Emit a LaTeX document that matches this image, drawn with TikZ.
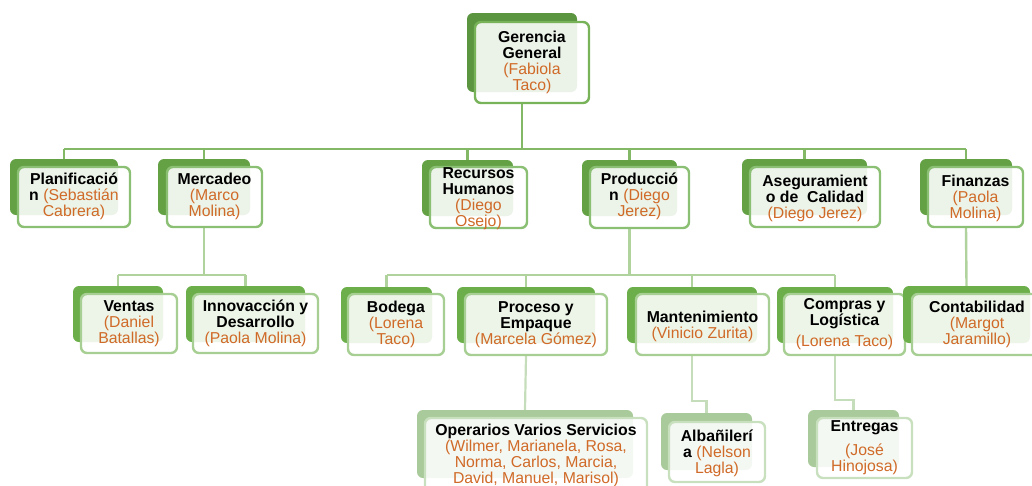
\documentclass[tikz,border=0pt]{standalone}
\usepackage{fontspec}
\setmainfont{Liberation Sans}
\usetikzlibrary{fit,backgrounds}
\definecolor{backA}{HTML}{5B9540}
\definecolor{bordA}{HTML}{78B35A}
\definecolor{backB}{HTML}{64A145}
\definecolor{bordB}{HTML}{8BC074}
\definecolor{connB}{HTML}{82B866}
\definecolor{backC}{HTML}{6BAE4A}
\definecolor{bordC}{HTML}{A8CF93}
\definecolor{connC}{HTML}{B0D39E}
\definecolor{backD}{HTML}{A9CA9A}
\definecolor{bordD}{HTML}{C9E0BF}
\definecolor{connD}{HTML}{C5DDBA}
\definecolor{orangetxt}{HTML}{D06A28}
\newcommand\onm[1]{\textbf{#1}}
\newcommand\opn[1]{\textcolor{orangetxt}{#1}}
% #1 name, #2 level letter, #3 back c1, #4 back c2, #5 front c1, #6 front c2, #7 yshift, #8 text
\newcommand\orgnode[8]{%
  \node[backbox, fill=back#2, fit={(#3) (#4)}] (#1b) {};
  \node[frontbox, draw=bord#2, fit={(#5) (#6)}] (#1f) {};
  \node[txtbox, yshift=#7] (#1t) at (#1f.center) {#8};
}
\begin{document}
\begin{tikzpicture}[x=1pt,y=-1pt,
  backbox/.style={inner sep=0pt, rounded corners=6pt, draw=none},
  frontbox/.style={inner sep=0pt, rounded corners=6pt, line width=2.4pt, fill=white, fill opacity=0.88},
  txtbox/.style={inner sep=0pt, align=center, font=\fontsize{15.8}{16}\selectfont},
  lineB/.style={draw=connB, line width=2.8pt},
  lineC/.style={draw=connC, line width=2.4pt},
  lineD/.style={draw=connD, line width=2.2pt}]
\useasboundingbox (0,0) rectangle (1032,485);
\clip (0,0) rectangle (1032,485);

\orgnode{ger}{A}{467,13}{577,92}{475,22}{589,103}{0pt}{\onm{Gerencia}\\\onm{General}\\\opn{(Fabiola}\\\opn{Taco)}}

\orgnode{pla}{B}{10,159}{118,215}{18,167}{130,227}{1pt}{\onm{Planificació}\\\onm{n} \opn{(Sebastián}\\\opn{Cabrera)}}
\orgnode{mer}{B}{158,159}{250,215}{167,167}{262,227}{1pt}{\onm{Mercadeo}\\\opn{(Marco}\\\opn{Molina)}}
\orgnode{rec}{B}{422,160}{513,216}{430,167}{527,228}{-1pt}{\onm{Recursos}\\\onm{Humanos}\\\opn{(Diego}\\\opn{Osejo)}}
\orgnode{pro}{B}{582,160}{677,216}{590,167}{689,228}{1pt}{\onm{Producció}\\\onm{n} \opn{(Diego}\\\opn{Jerez)}}
\orgnode{ase}{B}{742,159}{867,215}{750,167}{880,227}{-1pt}{\onm{Aseguramient}\\\onm{o de\ \ Calidad}\\\opn{(Diego Jerez)}}
\orgnode{fin}{B}{920,159}{1012,215}{928,167}{1023,227}{-1pt}{\onm{Finanzas}\\\opn{(Paola}\\\opn{Molina)}}

\orgnode{ven}{C}{73,286}{163,342}{81,294}{177,353}{0pt}{\onm{Ventas}\\\opn{(Daniel}\\\opn{Batallas)}}
\orgnode{inn}{C}{186,286}{305,342}{193,294}{318,353}{0pt}{\onm{Innovacción y}\\\onm{Desarrollo}\\\opn{(Paola Molina)}}
\orgnode{bod}{C}{341,287}{432,343}{348,294}{444,355}{0pt}{\onm{Bodega}\\\opn{(Lorena}\\\opn{Taco)}}
\orgnode{pye}{C}{457,287}{595,343}{465,294}{607,355}{0pt}{\onm{Proceso y}\\\onm{Empaque}\\\opn{(Marcela Gómez)}}
\orgnode{man}{C}{627,287}{757,343}{636,294}{769,355}{-2pt}{\onm{Mantenimiento}\\\opn{(Vinicio Zurita)}}
\orgnode{com}{C}{777,287}{893,343}{784,294}{905,355}{0pt}{\onm{Compras y}\\\onm{Logística}\\[5pt]\opn{(Lorena Taco)}}
\orgnode{con}{C}{903,286}{1030,343}{912,294}{1042,355}{0pt}{\onm{Contabilidad}\\\opn{(Margot}\\\opn{Jaramillo)}}

\orgnode{ope}{D}{417,410}{633,478}{425,418}{647,492}{0pt}{\onm{Operarios Varios Servicios}\\\opn{(Wilmer, Marianela, Rosa,}\\\opn{Norma, Carlos, Marcia,}\\\opn{David, Manuel, Marisol)}}
\orgnode{alb}{D}{661,413}{752,470}{669,422}{765,482}{-1pt}{\onm{Albañilerí}\\\onm{a} \opn{(Nelson}\\\opn{Lagla)}}
\orgnode{ent}{D}{808,410}{899,467}{817,418}{912,478}{0pt}{\onm{Entregas}\\[8pt]\opn{(José}\\\opn{Hinojosa)}}

\coordinate (hubA) at (0,149);
\coordinate (hubB) at (0,275);
\coordinate (hubM) at (0,401);
\coordinate (hubE) at (0,400);

\begin{scope}[on background layer]
  % level 1
  \draw[lineB] (gerb.center |- gerf.south) -- (gerb.center |- hubA);
  \draw[lineB] (plab.north |- hubA) -- (finb.north |- hubA);
  \foreach \n in {pla,mer,rec,pro,ase,fin}{
    \draw[lineB] (\n b.north |- hubA) -- (\n b.north);
  }
  % level 2
  \draw[lineC] (merb.center |- merf.south) -- (merb.center |- hubB);
  \draw[lineC] (venb.north |- hubB) -- (innb.north |- hubB);
  \draw[lineC] (venb.north |- hubB) -- (venb.north);
  \draw[lineC] (innb.north |- hubB) -- (innb.north);
  \draw[lineC] (prob.center |- prof.south) -- (prob.center |- hubB);
  \draw[lineC] (bodb.north |- hubB) -- (comb.north |- hubB);
  \foreach \n in {bod,pye,man,com}{
    \draw[lineC] (\n b.north |- hubB) -- (\n b.north);
  }
  \draw[lineC] (finb.center |- finf.south) -- (conb.north);
  % level 3
  \draw[lineD] (pyeb.center |- pyef.south) -- (opeb.north);
  \draw[lineD] (manb.center |- manf.south) -- (manb.center |- hubM) -- (albb.north |- hubM) -- (albb.north);
  \draw[lineD] (comb.center |- comf.south) -- (comb.center |- hubE) -- (entb.north |- hubE) -- (entb.north);
\end{scope}
\end{tikzpicture}
\end{document}
